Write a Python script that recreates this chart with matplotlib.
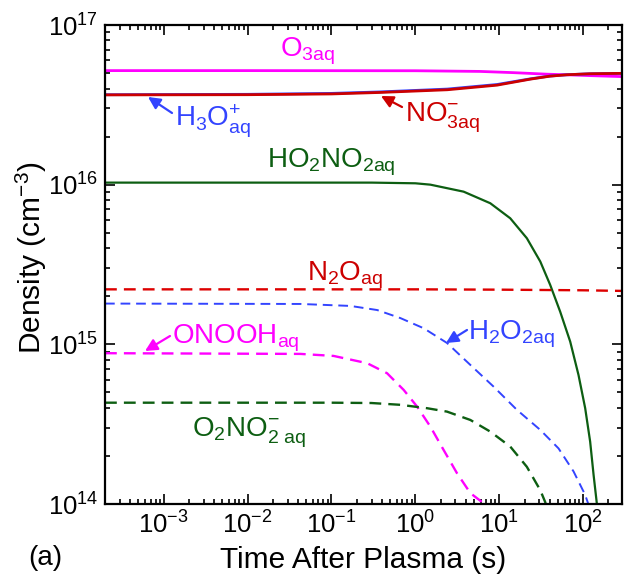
import matplotlib
matplotlib.use('Agg')
import matplotlib.pyplot as plt
from matplotlib.ticker import LogLocator, NullFormatter

plt.rcParams['font.family'] = ['Liberation Sans', 'DejaVu Sans']
plt.rcParams['mathtext.fontset'] = 'custom'
plt.rcParams['mathtext.rm'] = 'Liberation Sans'
plt.rcParams['mathtext.it'] = 'Liberation Sans'
plt.rcParams['mathtext.default'] = 'regular'

# values (time in s, density in cm^-3)
t_o3 = [2e-4, 1e-2, 1, 5.9, 14.8, 37, 70, 120, 300]
n_o3 = [5.18e16, 5.18e16, 5.17e16, 5.12e16, 5.03e16, 4.92e16, 4.87e16, 4.82e16, 4.75e16]

t_no3 = [2e-4, 1e-2, 0.1, 0.38, 2.4, 9.4, 23.4, 40, 64, 120, 300]
n_no3 = [3.65e16, 3.66e16, 3.7e16, 3.78e16, 3.93e16, 4.2e16, 4.58e16, 4.78e16, 4.88e16, 4.95e16, 4.98e16]
n_h3o = [3.66e16, 3.68e16, 3.73e16, 3.81e16, 3.97e16, 4.24e16, 4.6e16, 4.79e16, 4.88e16, 4.95e16, 4.98e16]

t_ho2no2 = [2e-4, 0.01, 0.3, 1.0, 1.51, 3.76, 7.81, 13.5, 21.3, 30.8, 40.5, 53.2, 70,
            87.9, 105.6, 121, 133, 145.6, 152]
n_ho2no2 = [1.03e16, 1.03e16, 1.03e16, 1.02e16, 1.0e16, 9.04e15, 7.65e15, 6.16e15, 4.62e15,
            3.30e15, 2.35e15, 1.60e15, 1.04e15, 6.43e14, 3.98e14, 2.46e14, 1.52e14, 1.0e14, 8.5e13]

t_n2o = [2e-4, 1, 10, 100, 300]
n_n2o = [2.21e15, 2.21e15, 2.2e15, 2.18e15, 2.16e15]

t_h2o2 = [2e-4, 0.0428, 0.168, 0.35, 0.663, 1.26, 2.38, 4.52, 8.56, 16.2, 30.8, 50.8,
          76.7, 105.6, 115, 120]
n_h2o2 = [1.8e15, 1.79e15, 1.74e15, 1.64e15, 1.46e15, 1.26e15, 1.02e15, 7.43e14, 5.43e14,
          3.89e14, 2.91e14, 2.23e14, 1.60e14, 1.14e14, 1.0e14, 9.2e13]

t_onooh = [2e-4, 0.0428, 0.106, 0.266, 0.46, 0.726, 1.05, 1.51, 2.17, 3.13, 4.52, 6.2, 7.5]
n_onooh = [8.8e14, 8.71e14, 8.46e14, 7.62e14, 6.59e14, 5.18e14, 4.07e14, 3.05e14, 2.18e14,
           1.56e14, 1.17e14, 1.03e14, 9.5e13]

t_o2no2 = [2e-4, 0.1, 0.3, 0.663, 1.38, 2.38, 4.52, 7.81, 13.5, 21.3, 30.8, 35.2, 37]
n_o2no2 = [4.31e14, 4.31e14, 4.29e14, 4.18e14, 3.98e14, 3.79e14, 3.36e14, 2.84e14, 2.29e14,
           1.71e14, 1.22e14, 1.03e14, 9.5e13]

x_ticks = [1e-3, 1e-2, 1e-1, 1e0, 1e1, 1e2]
y_ticks = [1e14, 1e15, 1e16, 1e17]

MAG = '#ff00ff'
BLUE = '#3344ff'
RED = '#cc0000'
GREEN = '#0d5e12'

fig = plt.figure(figsize=(6.28, 5.75), dpi=100)
ax = fig.add_axes([105 / 628, 71 / 575, 517 / 628, 479 / 575])

dash = (0, (5, 3))
ax.plot(t_o3, n_o3, color=MAG, lw=2)
ax.plot(t_no3, n_h3o, color=BLUE, lw=2)
ax.plot(t_no3, n_no3, color=RED, lw=2)
ax.plot(t_ho2no2, n_ho2no2, color=GREEN, lw=1.6)
ax.plot(t_n2o, n_n2o, color='#dd0000', lw=1.7, linestyle=dash)
ax.plot(t_h2o2, n_h2o2, color=BLUE, lw=1.4, linestyle=dash)
ax.plot(t_onooh, n_onooh, color=MAG, lw=1.7, linestyle=dash)
ax.plot(t_o2no2, n_o2no2, color=GREEN, lw=1.7, linestyle=dash)

ax.set_xscale('log')
ax.set_yscale('log')
ax.set_xticks(x_ticks)
ax.set_yticks(y_ticks)
ax.xaxis.set_minor_locator(LogLocator(base=10, subs=range(2, 10), numticks=50))
ax.yaxis.set_minor_locator(LogLocator(base=10, subs=range(2, 10), numticks=50))
ax.xaxis.set_minor_formatter(NullFormatter())
ax.yaxis.set_minor_formatter(NullFormatter())
ax.set_xlim(2e-4, 290)
ax.set_ylim(1e14, 1e17)

ax.tick_params(which='both', direction='in', top=True, right=True, width=1.2, colors='black')
ax.tick_params(which='major', length=7, labelsize=18.5)
ax.tick_params(axis='x', which='major', pad=5)
ax.tick_params(axis='y', which='major', pad=5)
ax.tick_params(which='minor', length=3.5)
for s in ax.spines.values():
    s.set_linewidth(1.6)

ax.set_xlabel('Time After Plasma (s)', fontsize=21.5)
ax.xaxis.set_label_coords(0.5, -0.088)
ax.set_ylabel('Density (cm$^{-3}$)', fontsize=21.5)
ax.yaxis.set_label_coords(-0.108, 0.515)

fs = 20
tr = ax.transAxes
ax.text(0.3385, 0.9332, r'O$_{3aq}$', color=MAG, fontsize=fs, transform=tr)
ax.text(0.1354, 0.7871, r'H$_3$O$^{+}_{aq}$', color=BLUE, fontsize=fs, transform=tr)
ax.text(0.3133, 0.7015, r'HO$_2$NO$_{2aq}$', color=GREEN, fontsize=fs, transform=tr)
ax.text(0.5803, 0.7975, r'NO$^{-}_{3aq}$', color=RED, fontsize=fs, transform=tr)
ax.text(0.3907, 0.4656, r'N$_2$O$_{aq}$', color=RED, fontsize=fs, transform=tr)
ax.text(0.1296, 0.3361, r'ONOOH$_{aq}$', color=MAG, fontsize=fs, transform=tr)
ax.text(0.7021, 0.3424, r'H$_2$O$_{2aq}$', color=BLUE, fontsize=fs, transform=tr)
ax.text(0.1683, 0.1399, r'O$_2$NO$_{2\ aq}^{-}$', color=GREEN, fontsize=fs, transform=tr)


def arrow(tail, tip, color):
    ax.annotate('', xy=tip, xytext=tail, xycoords=tr, textcoords=tr,
                arrowprops=dict(arrowstyle='-|>', color=color, lw=1.6,
                                mutation_scale=18, shrinkA=0, shrinkB=0))


arrow((0.1296, 0.8163), (0.0832, 0.8497), BLUE)
arrow((0.5745, 0.8288), (0.5338, 0.8518), RED)
arrow((0.1257, 0.3507), (0.0774, 0.3194), MAG)
arrow((0.7002, 0.3633), (0.6596, 0.3361), BLUE)

fig.text(28 / 628, 1 - 565 / 575, '(a)', fontsize=20)

fig.savefig('out.png', dpi=100)
